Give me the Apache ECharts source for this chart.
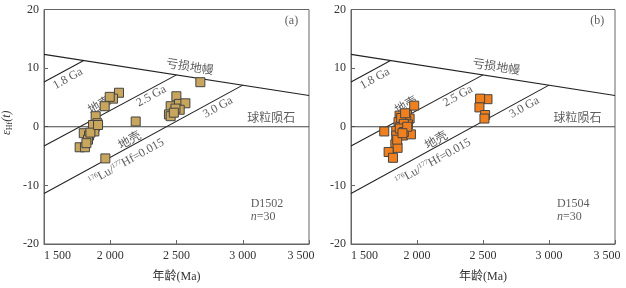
<!DOCTYPE html>
<html><head><meta charset="utf-8">
<script src="https://cdn.jsdelivr.net/npm/echarts@6/dist/echarts.min.js"></script>
<style>html,body{margin:0;padding:0;background:#fff}#c{width:626px;height:288px}</style>
</head><body><div id="c"></div>
<script>
// ---- data ----
const xTicks = [1500, 2000, 2500, 3000, 3500];
const yTicks = [-20, -10, 0, 10, 20];
const d1502Age = [2680,2499,2456,2519,2567,2443,2456,2524,2492,2480,2192,2066,2021,1996,1958,1890,1903,1883,1875,1800,1840,1832,1769,1809,1963,1880,1870,1820,1850,1908];
const d1502Eps = [7.6,5.2,3.5,3.9,4.0,2.1,1.8,2.9,3.1,2.4,0.9,5.8,4.8,5.1,3.5,1.8,0.6,0.0,-0.4,-1.1,-1.5,-2.2,-3.5,-3.5,-5.4,-0.8,0.3,-2.8,-1.0,0.3];
const d1504Age = [2534,2478,2473,2516,2511,1979,1868,1924,1944,1918,1860,1931,1873,1752,1843,1893,1954,1843,1836,1853,1785,1818,1880,1900,1870,1910,1850,1900,1926,1890];
const d1504Eps = [4.7,4.8,3.3,2.0,1.4,3.6,1.9,2.0,1.4,1.1,0.8,0.4,0.0,-0.8,-0.7,-1.5,-1.3,-1.5,-3.0,-3.6,-4.3,-5.3,1.5,0.5,-0.3,2.3,-2.2,-0.9,0.0,-1.1];
const dmLine = [[1500,12.35],[3500,5.33]];
const churLine = [[1500,0],[3500,0]];
const crust18 = [[1500,7.65],[1800,11.3]];
const crust25 = [[1500,-3.3],[2500,8.85]];
const crust30 = [[1500,-11.4],[3000,7.1]];

// annotations (text, age, eps, rotation, align)
const notes = [
  ['1.8 Ga', 1681, 8.2, 29, 'center'],
  ['亏损地幔', 2600, 10.1, -9, 'center'],
  ['2.5 Ga', 2310, 5.2, 29, 'center'],
  ['3.0 Ga', 2813, 3.3, 29, 'center'],
  ['球粒陨石', 3216, 1.3, 0, 'center'],
  ['地壳', 1920, 3.6, 29, 'center'],
  ['地壳', 2148, -2.4, 29, 'center'],
  ['{s|176}Lu/{s|177}Hf=0.015', 2122, -6.0, 29, 'center']
];
const panels = [
  {tag: '(a)', sample: 'D1502', age: d1502Age, eps: d1502Eps, color: '#C9A65E'},
  {tag: '(b)', sample: 'D1504', age: d1504Age, eps: d1504Eps, color: '#F0801E'}
];

const serif = '"Liberation Serif","Noto Sans CJK SC",serif';
const txt = '#333';
const chart = echarts.init(document.getElementById('c'), null, {renderer: 'canvas'});
const grids = [
  {left: 44, top: 9.5, width: 265, height: 242.5, show: true, borderColor: '#666', borderWidth: 1},
  {left: 351, top: 9.5, width: 264, height: 242.5, show: true, borderColor: '#666', borderWidth: 1}
];
const fmtX = v => {
  const s = String(v); const t = s.slice(0, s.length-3) + ' ' + s.slice(-3);
  return v === xTicks[xTicks.length-1] ? '{m|' + t + '}' : t;
};
const xAxes = [0,1].map(i => ({
  type: 'value', gridIndex: i, min: xTicks[0], max: xTicks[xTicks.length-1], interval: 500,
  name: '年龄(Ma)', nameLocation: 'middle', nameGap: 27,
  nameTextStyle: {fontFamily: serif, fontSize: 12, color: txt},
  axisLine: {onZero: false, lineStyle: {color: '#666'}},
  axisTick: {inside: true, length: 4, lineStyle: {color: '#666'}},
  axisLabel: {fontFamily: serif, fontSize: 12, color: txt, margin: 6, formatter: fmtX,
    alignMinLabel: 'left',
    rich: {m: {fontFamily: serif, fontSize: 12, color: txt, padding: [0, 16, 0, 0]}}},
  splitLine: {show: false}
}));
const yAxes = [0,1].map(i => ({
  type: 'value', gridIndex: i, min: yTicks[0], max: yTicks[yTicks.length-1], interval: 10,
  name: i === 0 ? '{e|ε}{h|Hf}{e|(}{t|t}{e|)}' : '', nameLocation: 'middle', nameGap: 30, nameRotate: 90,
  nameTextStyle: {fontFamily: serif, fontSize: 12, color: txt, padding: [0, 0, 0, 8],
    rich: {e: {fontFamily: serif, fontSize: 12, fontStyle: 'italic', color: txt},
           t: {fontFamily: serif, fontSize: 12, fontStyle: 'italic', color: txt},
           h: {fontFamily: serif, fontSize: 8, color: txt, verticalAlign: 'bottom', padding: [6,0,0,0]}}},
  axisLine: {onZero: false, lineStyle: {color: '#666'}},
  axisTick: {inside: true, length: 4, lineStyle: {color: '#666'}},
  axisLabel: {fontFamily: serif, fontSize: 12, color: txt, margin: 5},
  splitLine: {show: false}
}));

const series = [];
panels.forEach((p, i) => {
  const lineStyle = {color: '#222', width: 1.1};
  [dmLine, churLine, crust18, crust25, crust30].forEach(l => {
    series.push({type: 'line', xAxisIndex: i, yAxisIndex: i, data: l, symbol: 'none',
      lineStyle: l === churLine ? {color: '#444', width: 1.1} : lineStyle, silent: true, z: 2, animation: false});
  });
  const noteData = notes.map(n => ({value: [n[1], n[2]], label: {formatter: n[0], rotate: n[3], align: n[4]}}));
  noteData.push({value: [3418, 18.1], label: {formatter: p.tag, rotate: 0, align: 'right'}});
  noteData.push({value: [3060, -13.2], label: {formatter: p.sample, rotate: 0, align: 'left'}});
  noteData.push({value: [3060, -15.3], label: {formatter: '{i|n}=30', rotate: 0, align: 'left'}});
  series.push({type: 'scatter', xAxisIndex: i, yAxisIndex: i, data: noteData, symbolSize: 0, z: 3, silent: true, animation: false,
    label: {show: true, position: 'inside', fontFamily: serif, fontSize: 12, color: txt,
      rich: {s: {fontFamily: serif, fontSize: 7, color: txt, verticalAlign: 'top', padding: [0,0,6,0]},
             i: {fontFamily: serif, fontSize: 12, fontStyle: 'italic', color: txt}}}});
  series.push({type: 'scatter', xAxisIndex: i, yAxisIndex: i, symbol: 'rect', symbolSize: 9, z: 5, animation: false,
    data: p.age.map((a, k) => [a, p.eps[k]]),
    itemStyle: {color: p.color, borderColor: '#444', borderWidth: 1, opacity: 1}});
});

chart.setOption({backgroundColor: '#fff', animation: false, grid: grids, xAxis: xAxes, yAxis: yAxes, series: series});
</script></body></html>
